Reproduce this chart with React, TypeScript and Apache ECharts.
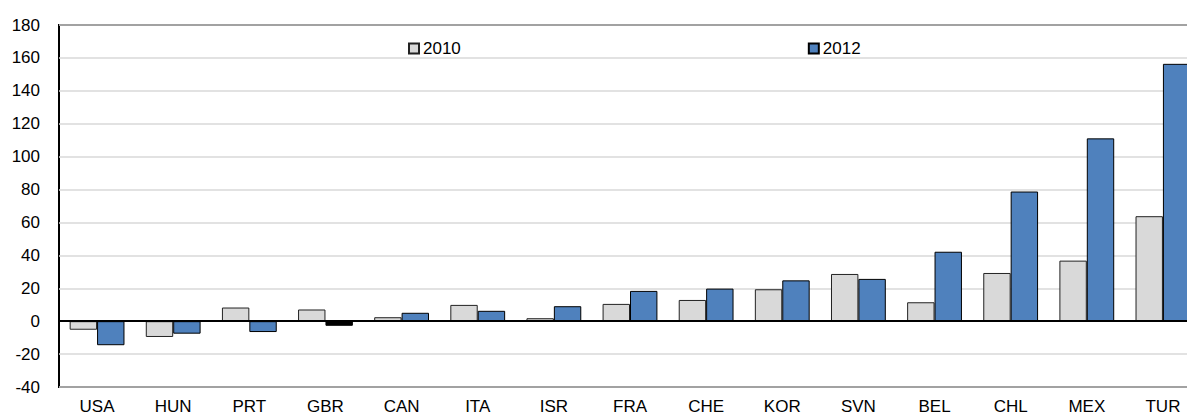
import React, { useEffect, useRef } from "react";
import * as echarts from "echarts";

const categories = ["USA", "HUN", "PRT", "GBR", "CAN", "ITA", "ISR", "FRA", "CHE", "KOR", "SVN", "BEL", "CHL", "MEX", "TUR"];
const values2010 = [-5.2, -9.6, 8.3, 7.1, 2.4, 9.9, 1.8, 10.5, 12.9, 19.4, 28.7, 11.5, 29.3, 36.8, 63.8];
const values2012 = [-14.6, -7.6, -6.6, -2.8, 5.1, 6.3, 9.1, 18.4, 19.8, 24.8, 25.7, 42.2, 78.8, 111.1, 156.4];
const highlight2012 = "GBR";
const yTicks = { min: -40, max: 180, interval: 20 };

const FONT = "'Liberation Sans', Arial, sans-serif";
const FS = 17;

export default function App() {
  const ref = useRef<HTMLDivElement>(null);
  useEffect(() => {
    if (!ref.current) return;
    const chart = echarts.init(ref.current, undefined, { renderer: "svg" });
    chart.setOption({
      animation: false,
      textStyle: { fontFamily: FONT },
      grid: {
        left: 59,
        right: 19,
        top: 25,
        bottom: 27,
        show: true,
        borderColor: "#000",
        borderWidth: 2,
        containLabel: false,
      },
      legend: {
        left: 403,
        top: 35,
        padding: 5,
        icon: "rect",
        itemWidth: 10,
        itemHeight: 10,
        itemGap: 347,
        textStyle: { fontSize: FS, color: "#000", fontFamily: FONT, padding: [0, 0, 0, -1] },
        data: ["2010", "2012"],
      },
      xAxis: {
        type: "category",
        data: categories,
        axisLine: { show: false },
        axisTick: { show: false },
        axisLabel: { fontSize: FS, color: "#000", margin: 11, fontFamily: FONT },
        splitLine: { show: false },
      },
      yAxis: {
        type: "value",
        min: yTicks.min,
        max: yTicks.max,
        interval: yTicks.interval,
        axisLine: { show: false },
        axisTick: { show: false },
        axisLabel: { fontSize: FS, color: "#000", margin: 19, fontFamily: FONT },
        splitLine: { show: true, lineStyle: { color: "#d9d9d9", width: 1.5 } },
      },
      series: [
        {
          name: "2010",
          type: "bar",
          data: values2010,
          barWidth: "36%",
          barGap: "0%",
          itemStyle: { color: "#d9d9d9", borderColor: "#222", borderWidth: 1 },
        },
        {
          name: "2012",
          type: "bar",
          data: values2012.map((v, i) =>
            categories[i] === highlight2012
              ? { value: v, itemStyle: { color: "#000", borderColor: "#000" } }
              : v
          ),
          barWidth: "36%",
          barGap: "0%",
          itemStyle: { color: "#4f81bd", borderColor: "#000", borderWidth: 1 },
          markLine: {
            silent: true,
            symbol: "none",
            label: { show: false },
            lineStyle: { color: "#000", width: 2, type: "solid" },
            data: [{ yAxis: 0 }],
          },
        },
      ],
    });
    return () => chart.dispose();
  }, []);
  return (
    <div
      ref={ref}
      style={{ position: "fixed", left: 0, top: 0, width: 1220, height: 415, background: "#fff" }}
    />
  );
}
